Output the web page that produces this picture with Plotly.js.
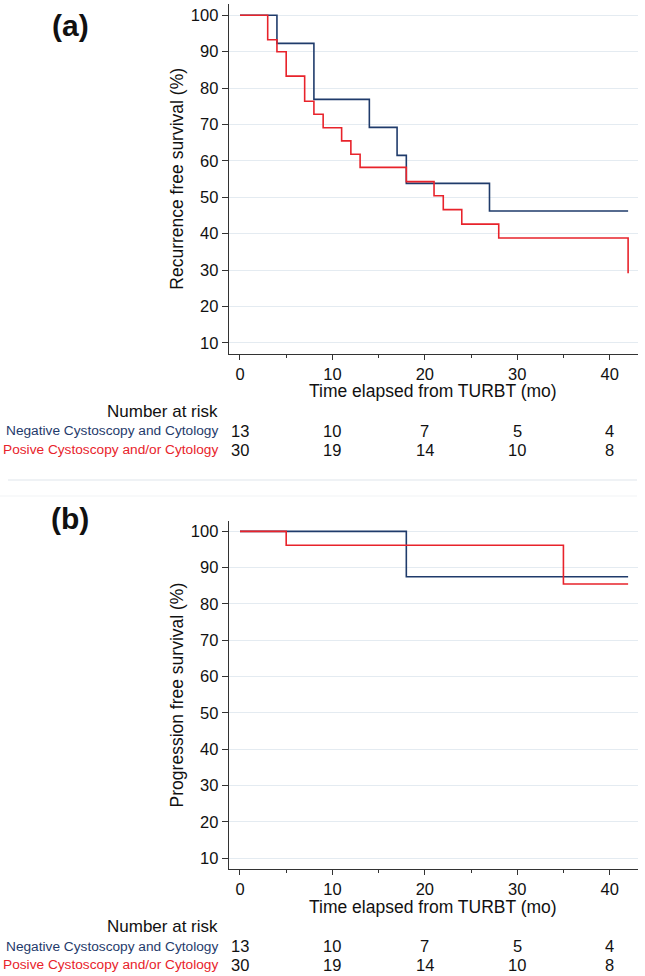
<!DOCTYPE html>
<html>
<head>
<meta charset="utf-8">
<script src="https://cdn.plot.ly/plotly-3.0.1.min.js"></script>
<style>html,body{margin:0;padding:0;background:#fff;}#chart{width:645px;height:976px;}</style>
</head>
<body>
<div id="chart"></div>
<script>
// Panel (a): recurrence free survival
const recNegTime = [0, 4, 8, 14, 17, 18, 27, 42];
const recNegSurv = [100, 92.3, 76.9, 69.2, 61.5, 53.8, 46.2, 46.2];
const recPosTime = [0, 3, 4, 5, 7, 8, 9, 11, 12, 13, 18, 21, 22, 24, 28, 42];
const recPosSurv = [100, 93.3, 90.0, 83.3, 76.4, 72.8, 69.1, 65.5, 61.8, 58.2, 54.3, 50.4, 46.6, 42.6, 38.8, 29.1];
// Panel (b): progression free survival
const progNegTime = [0, 18, 42];
const progNegSurv = [100, 87.5, 87.5];
const progPosTime = [0, 5, 35, 42];
const progPosSurv = [100, 96.2, 85.5, 85.5];
// Number at risk
const riskTimes = [0, 10, 20, 30, 40];
const riskNegA = [13, 10, 7, 5, 4];
const riskPosA = [30, 19, 14, 10, 8];
const riskNegB = [13, 10, 7, 5, 4];
const riskPosB = [30, 19, 14, 10, 8];
const groupNeg = "Negative Cystoscopy and Cytology";
const groupPos = "Posive Cystoscopy and/or Cytology";
const yTicks = [10, 20, 30, 40, 50, 60, 70, 80, 90, 100];

const BLUE = "#1f3b6b";
const RED = "#e8232b";
const FONT = "Liberation Sans, Arial, Helvetica, sans-serif";
const H = 976, W = 645;
const py = p => 1 - p / H;
const px = p => p / W;

const traces = [
  {x: recNegTime, y: recNegSurv, xaxis: "x", yaxis: "y", mode: "lines", line: {shape: "hv", color: BLUE, width: 1.6}, hoverinfo: "skip"},
  {x: recPosTime, y: recPosSurv, xaxis: "x", yaxis: "y", mode: "lines", line: {shape: "hv", color: RED, width: 1.6}, hoverinfo: "skip"},
  {x: progNegTime, y: progNegSurv, xaxis: "x2", yaxis: "y2", mode: "lines", line: {shape: "hv", color: BLUE, width: 1.6}, hoverinfo: "skip"},
  {x: progPosTime, y: progPosSurv, xaxis: "x2", yaxis: "y2", mode: "lines", line: {shape: "hv", color: RED, width: 1.6}, hoverinfo: "skip"}
];

const xDom = [px(228.7), px(638)];
const xCommon = {
  domain: xDom, range: [-1.22, 43.07], tick0: 0, dtick: 10, ticks: "outside", ticklen: 5, tickwidth: 1,
  tickcolor: "#333", showline: true, linecolor: "#333", linewidth: 1, showgrid: false, zeroline: false,
  tickfont: {family: FONT, size: 16.5, color: "#111"},
  minor: {tick0: 0, dtick: 5, ticks: "outside", ticklen: 3, tickcolor: "#333", showgrid: false}
};
const yCommon = {
  range: [7, 103], tickvals: yTicks, ticks: "outside", ticklen: 6, tickwidth: 1, tickcolor: "#333",
  showline: true, linecolor: "#333", linewidth: 1, showgrid: true, gridcolor: "#e4ebf1", gridwidth: 1,
  zeroline: false, tickfont: {family: FONT, size: 16.5, color: "#111"}
};

const layout = {
  width: W, height: H, margin: {l: 0, r: 0, t: 0, b: 0}, showlegend: false,
  paper_bgcolor: "#fff", plot_bgcolor: "#fff",
  xaxis: Object.assign({}, xCommon, {anchor: "y"}),
  yaxis: Object.assign({}, yCommon, {anchor: "x", domain: [py(353.7), py(4.4)]}),
  xaxis2: Object.assign({}, xCommon, {anchor: "y2"}),
  yaxis2: Object.assign({}, yCommon, {anchor: "x2", domain: [py(869), py(520.5)]}),
  shapes: [
    {type: "line", xref: "paper", yref: "paper", x0: px(8), x1: px(637), y0: py(480), y1: py(480), line: {color: "#dfe5eb", width: 1}},
    {type: "line", xref: "paper", yref: "paper", x0: px(0), x1: px(637), y0: py(496), y1: py(496), line: {color: "#f1f3f5", width: 1}}
  ],
  annotations: []
};

const ann = layout.annotations;
function txt(text, x, y, opts) {
  ann.push(Object.assign({text: text, x: x, y: y, xref: "paper", yref: "paper", showarrow: false,
    xanchor: "center", yanchor: "middle", font: {family: FONT, size: 16, color: "#111"}}, opts || {}));
}

function panel(label, labelY, yTitle, yTitleY, offset, riskNeg, riskPos, xref) {
  txt("<b>" + label + "</b>", px(70), py(labelY), {font: {family: FONT, size: 30, color: "#111"}});
  txt(yTitle, px(176.7), py(yTitleY), {textangle: -90, font: {family: FONT, size: 17.5, color: "#111"}});
  txt("Time elapsed from TURBT (mo)", (xDom[0] + xDom[1]) / 2, py(391.5 + offset), {font: {family: FONT, size: 17.5, color: "#111"}});
  txt("Number at risk", px(220), py(411.7 + offset), {xanchor: "right", font: {family: FONT, size: 17, color: "#111"}});
  txt(groupNeg, px(220), py(431 + offset), {xanchor: "right", font: {family: FONT, size: 13.7, color: BLUE}});
  txt(groupPos, px(220), py(449.7 + offset), {xanchor: "right", font: {family: FONT, size: 13.7, color: RED}});
  riskTimes.forEach((t, i) => {
    ann.push({text: String(riskNeg[i]), x: t, xref: xref, y: py(431 + offset), yref: "paper", showarrow: false,
      xanchor: "center", yanchor: "middle", font: {family: FONT, size: 16.5, color: "#111"}});
    ann.push({text: String(riskPos[i]), x: t, xref: xref, y: py(449.7 + offset), yref: "paper", showarrow: false,
      xanchor: "center", yanchor: "middle", font: {family: FONT, size: 16.5, color: "#111"}});
  });
}

panel("(a)", 25, "Recurrence free survival (%)", 179, 0, riskNegA, riskPosA, "x");
panel("(b)", 518.3, "Progression free survival (%)", 694.7, 515, riskNegB, riskPosB, "x2");

Plotly.newPlot("chart", traces, layout, {staticPlot: true, displayModeBar: false});
</script>
</body>
</html>
